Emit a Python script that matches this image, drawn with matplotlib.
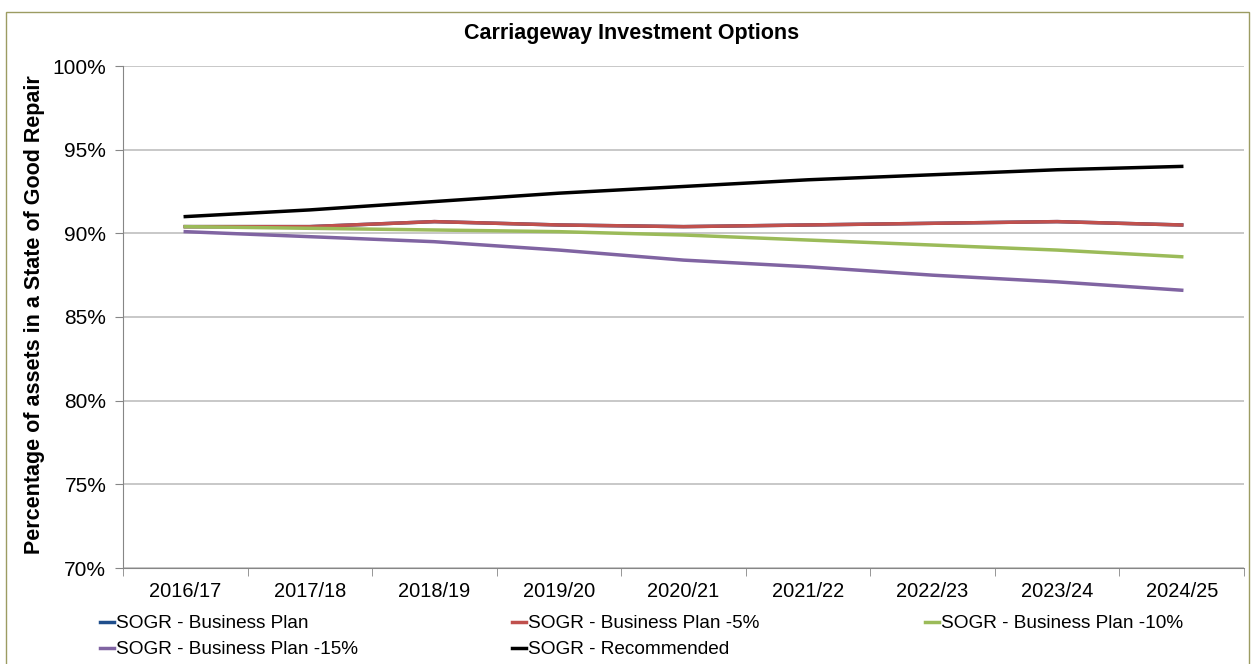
import matplotlib.pyplot as plt
import numpy as np
from matplotlib.patches import Rectangle

plt.rcParams['font.family'] = ['Liberation Sans', 'DejaVu Sans']

years = ['2016/17', '2017/18', '2018/19', '2019/20', '2020/21',
         '2021/22', '2022/23', '2023/24', '2024/25']
bp = [90.4, 90.4, 90.7, 90.5, 90.4, 90.5, 90.6, 90.7, 90.5]
bp5 = [90.4, 90.4, 90.7, 90.5, 90.4, 90.5, 90.6, 90.7, 90.5]
bp10 = [90.4, 90.3, 90.2, 90.1, 89.9, 89.6, 89.3, 89.0, 88.6]
bp15 = [90.1, 89.8, 89.5, 89.0, 88.4, 88.0, 87.5, 87.1, 86.6]
recommended = [91.0, 91.4, 91.9, 92.4, 92.8, 93.2, 93.5, 93.8, 94.0]

W, H = 1253, 664
fig = plt.figure(figsize=(W / 100, H / 100), dpi=100)
ax = fig.add_axes([123 / W, 1 - 568 / H, 1121 / W, 502 / H])

# outer chart border
fig.patches.append(Rectangle((6 / W, -0.01), 1243 / W, 1 - 12 / H + 0.01,
                             transform=fig.transFigure, fill=False,
                             edgecolor='#9c9c62', lw=1.0))

x = np.arange(len(years))
lw = 2.5
l1, = ax.plot(x, bp, color='#1f4e8c', lw=lw, label='SOGR - Business Plan')
l2, = ax.plot(x, bp5, color='#c0504d', lw=lw, label='SOGR - Business Plan -5%')
l3, = ax.plot(x, bp10, color='#9bbb59', lw=lw, label='SOGR - Business Plan -10%')
l4, = ax.plot(x, bp15, color='#8064a2', lw=lw, label='SOGR - Business Plan -15%')
l5, = ax.plot(x, recommended, color='black', lw=lw, label='SOGR - Recommended')

ax.set_xlim(-0.5, len(years) - 0.5)
ax.set_ylim(70, 100)
ax.set_yticks(np.arange(70, 101, 5))
ax.set_yticklabels(['%d%%' % v for v in range(70, 101, 5)])
ax.set_xticks(x)
ax.set_xticklabels(years)
ax.set_xticks(np.arange(-0.5, len(years)), minor=True)
ax.tick_params(axis='x', which='major', length=0, labelsize=14.4, pad=10)
ax.tick_params(axis='x', which='minor', length=6, color='#868686', direction='out')
ax.tick_params(axis='y', length=6, color='#868686', labelsize=15, pad=6)
ax.grid(axis='y', color='#bfbfbf', lw=1.2)
ax.set_axisbelow(True)
for s in ['top', 'right']:
    ax.spines[s].set_visible(False)
for s in ['left', 'bottom']:
    ax.spines[s].set_color('#868686')

fig.text(632 / W, 1 - 34 / H, 'Carriageway Investment Options', fontsize=15.5,
         fontweight='bold', ha='center', va='center')
fig.text(35 / W, 1 - 315 / H, 'Percentage of assets in a State of Good Repair',
         fontsize=15.5, fontweight='bold', rotation=90, ha='center', va='center')

# legend laid out row by row in three columns
columns = [([l1, l4], 100), ([l2, l5], 512), ([l3], 925)]
for hs, xpos in columns:
    fig.legend(hs, [h.get_label() for h in hs], frameon=False,
               loc='upper left', bbox_to_anchor=(xpos / W, 1 - 615 / H),
               borderaxespad=0, borderpad=0, fontsize=13.7,
               handlelength=0.75, handletextpad=0.1, labelspacing=0.45)

fig.savefig('out.png', dpi=100)
